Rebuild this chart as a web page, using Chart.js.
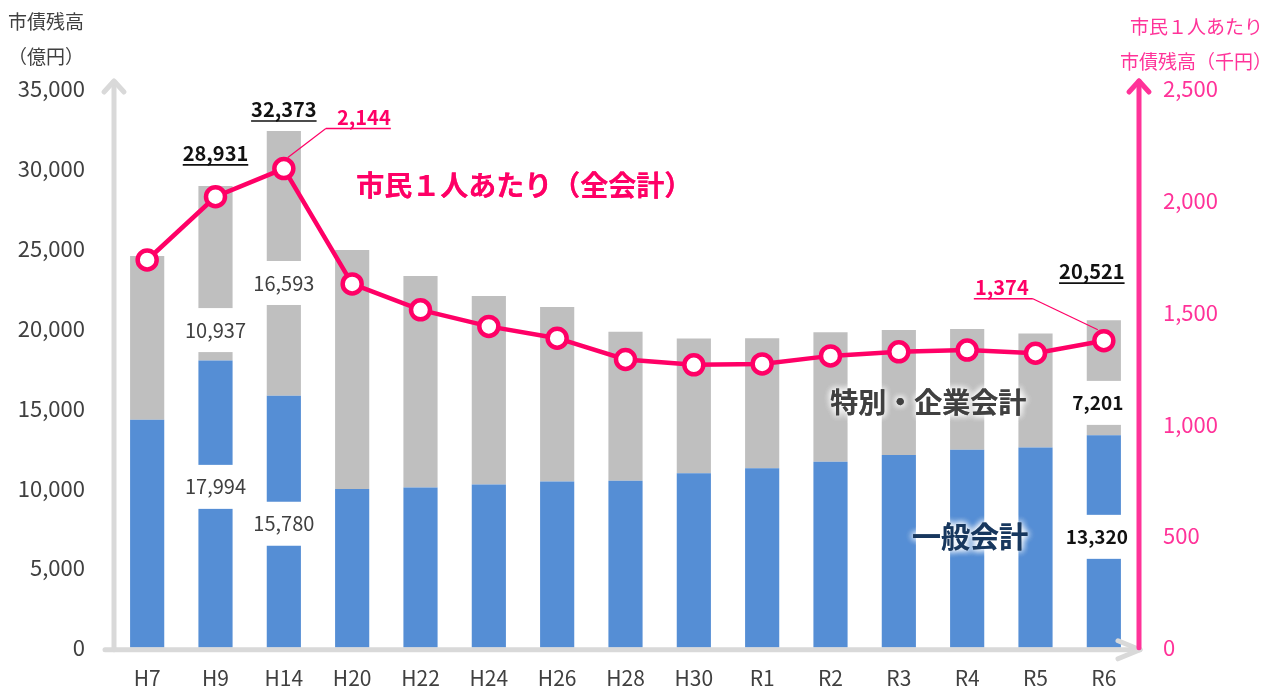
<!DOCTYPE html>
<html lang="ja">
<head>
<meta charset="utf-8">
<title>市債残高の推移</title>
<script src="https://cdn.jsdelivr.net/npm/chart.js@4.4.1/dist/chart.umd.min.js"></script>
<style>
  html, body { margin: 0; padding: 0; background: #fff; }
  #wrap { width: 1275px; height: 689px; }
</style>
</head>
<body>
<div id="wrap"><canvas id="debtChart" width="1275" height="689"></canvas></div>
<script>
// ---- Data (億円 / 千円) ----
const categories  = ['H7','H9','H14','H20','H22','H24','H26','H28','H30','R1','R2','R3','R4','R5','R6'];
const generalDebt = [14280, 17994, 15780, 9950, 10040, 10230, 10410, 10470, 10930, 11250, 11660, 12080, 12400, 12540, 13320];
const specialDebt = [10260, 10937, 16593, 14970, 13250, 11810, 10940, 9320, 8440, 8140, 8110, 7830, 7560, 7140, 7201];
const perCapita   = [1735, 2018, 2144, 1628, 1512, 1438, 1385, 1290, 1266, 1270, 1306, 1324, 1332, 1318, 1374];
const leftTicks   = [0, 5000, 10000, 15000, 20000, 25000, 30000, 35000];
const rightTicks  = [0, 500, 1000, 1500, 2000, 2500];

const totalDebt = generalDebt.map((v, i) => v + specialDebt[i]);

// ---- Styles ----
const FONT = '"Noto Sans CJK JP", "Noto Sans", sans-serif';
const textDark = '#404040';
const pinkLine = '#ff0066';
const pinkAxis = '#ff3399';
const axisGray = '#d9d9d9';
const fmt = v => v.toLocaleString('en-US');

// ---- helpers ----
function boxedLabel(ctx, text, x, y, font, color) {
  ctx.save();
  ctx.font = font;
  const w = ctx.measureText(text).width;
  ctx.fillStyle = '#fff';
  ctx.fillRect(x - w / 2 - 6, y - 22, w + 12, 44);
  ctx.fillStyle = color;
  ctx.textAlign = 'center';
  ctx.textBaseline = 'middle';
  ctx.fillText(text, x, y);
  ctx.restore();
}

// underline runs from x0 to x1 (may be wider than the text)
function underlinedLabel(ctx, text, x, baseline, font, color, x0, x1) {
  ctx.save();
  ctx.font = font;
  ctx.fillStyle = color;
  ctx.textAlign = 'center';
  ctx.textBaseline = 'alphabetic';
  ctx.fillText(text, x, baseline);
  const w = ctx.measureText(text).width;
  ctx.strokeStyle = color;
  ctx.lineWidth = 1.6;
  ctx.beginPath();
  ctx.moveTo(x0 ?? x - w / 2, baseline + 4);
  ctx.lineTo(x1 ?? x + w / 2, baseline + 4);
  ctx.stroke();
  ctx.restore();
}

function glowText(ctx, text, x, y, font, color) {
  ctx.save();
  ctx.font = font;
  ctx.textAlign = 'center';
  ctx.textBaseline = 'middle';
  ctx.fillStyle = color;
  ctx.shadowColor = 'rgba(255,255,255,1)';
  ctx.shadowBlur = 7;
  for (let i = 0; i < 3; i++) ctx.fillText(text, x, y);
  ctx.restore();
}

function chevron(ctx, pts) {
  ctx.beginPath();
  ctx.moveTo(pts[0][0], pts[0][1]);
  ctx.lineTo(pts[1][0], pts[1][1]);
  ctx.lineTo(pts[2][0], pts[2][1]);
  ctx.stroke();
}

// ---- Axes with arrows ----
const arrowAxes = {
  id: 'arrowAxes',
  afterDatasetsDraw(chart) {
    const { ctx, chartArea: a } = chart;
    ctx.save();
    ctx.lineCap = 'round';
    ctx.lineJoin = 'round';
    // left axis
    ctx.strokeStyle = axisGray;
    ctx.lineWidth = 5;
    ctx.beginPath();
    ctx.moveTo(a.left + 1, a.bottom + 2);
    ctx.lineTo(a.left + 1, a.top - 7);
    ctx.stroke();
    chevron(ctx, [[a.left - 9, a.top + 3], [a.left + 1, a.top - 8], [a.left + 11, a.top + 3]]);
    // bottom axis
    ctx.beginPath();
    ctx.moveTo(a.left - 8, a.bottom + 2);
    ctx.lineTo(a.right + 2, a.bottom + 2);
    ctx.stroke();
    chevron(ctx, [[a.right - 20, a.bottom - 7], [a.right + 2, a.bottom + 2], [a.right - 20, a.bottom + 11]]);
    // right axis
    ctx.strokeStyle = pinkAxis;
    ctx.lineWidth = 5;
    ctx.beginPath();
    ctx.moveTo(a.right + 1, a.bottom);
    ctx.lineTo(a.right + 1, a.top - 8);
    ctx.stroke();
    chevron(ctx, [[a.right - 9, a.top + 3], [a.right + 1, a.top - 8], [a.right + 11, a.top + 3]]);
    ctx.restore();
  }
};

// ---- Labels and notes ----
const notes = {
  id: 'notes',
  afterDraw(chart) {
    const { ctx } = chart;
    const x = chart.scales.x, y = chart.scales.y;
    const line = chart.getDatasetMeta(2).data;
    const reg = '20px ' + FONT;
    const bold = 'bold 19px ' + FONT;

    // split labels sitting in white boxes over the bars
    boxedLabel(ctx, fmt(specialDebt[1]), x.getPixelForValue(1), y.getPixelForValue(19900), reg, textDark);
    boxedLabel(ctx, fmt(generalDebt[1]), x.getPixelForValue(1), y.getPixelForValue(10080), reg, textDark);
    boxedLabel(ctx, fmt(specialDebt[2]), x.getPixelForValue(2), y.getPixelForValue(22850), reg, textDark);
    boxedLabel(ctx, fmt(generalDebt[2]), x.getPixelForValue(2), y.getPixelForValue(7770), reg, textDark);
    boxedLabel(ctx, fmt(specialDebt[14]), x.getPixelForValue(14) - 6, y.getPixelForValue(15340), bold, '#111');
    boxedLabel(ctx, fmt(generalDebt[14]), x.getPixelForValue(14) - 7, y.getPixelForValue(6950), bold, '#111');

    // totals
    underlinedLabel(ctx, fmt(totalDebt[1]), x.getPixelForValue(1), y.getPixelForValue(totalDebt[1]) - 25, 'bold 20px ' + FONT, '#111');
    underlinedLabel(ctx, fmt(totalDebt[2]), x.getPixelForValue(2), y.getPixelForValue(totalDebt[2]) - 14, 'bold 20px ' + FONT, '#111');
    underlinedLabel(ctx, fmt(totalDebt[14]), x.getPixelForValue(14) - 12, y.getPixelForValue(totalDebt[14]) - 41, 'bold 20px ' + FONT, '#111');

    // per-capita callouts with leader lines
    ctx.save();
    ctx.strokeStyle = pinkLine;
    ctx.lineWidth = 1.2;
    const p2 = line[2];
    ctx.beginPath();
    ctx.moveTo(p2.x + 4, p2.y - 11);
    ctx.lineTo(p2.x + 42, p2.y - 40);
    ctx.stroke();
    const p14 = line[14];
    ctx.beginPath();
    ctx.moveTo(p14.x - 6, p14.y - 11);
    ctx.lineTo(p14.x - 71, p14.y - 42);
    ctx.stroke();
    ctx.restore();
    underlinedLabel(ctx, fmt(perCapita[2]), p2.x + 80, p2.y - 44, 'bold 20px ' + FONT, pinkLine, p2.x + 42, p2.x + 107);
    underlinedLabel(ctx, fmt(perCapita[14]), p14.x - 102, p14.y - 46, 'bold 20px ' + FONT, pinkLine, p14.x - 130, p14.x - 71);

    // series names
    glowText(ctx, '市民１人あたり（全会計）', x.getPixelForValue(5.52), y.getPixelForValue(28990), 'bold 28px ' + FONT, pinkLine);
    glowText(ctx, '特別・企業会計', x.getPixelForValue(11.43), y.getPixelForValue(15400), 'bold 28px ' + FONT, textDark);
    glowText(ctx, '一般会計', x.getPixelForValue(12.04), y.getPixelForValue(6950), 'bold 29px ' + FONT, '#17375e');

    // axis titles
    ctx.save();
    ctx.font = '19px ' + FONT;
    ctx.textBaseline = 'middle';
    ctx.fillStyle = textDark;
    ctx.textAlign = 'left';
    ctx.fillText('市債残高', 8, 22);
    ctx.fillText('（億円）', 8, 57);
    ctx.fillStyle = pinkAxis;
    ctx.textAlign = 'right';
    ctx.fillText('市民１人あたり', 1263, 27);
    ctx.fillText('市債残高（千円）', 1272, 62);
    ctx.restore();
  }
};

new Chart(document.getElementById('debtChart'), {
  type: 'bar',
  data: {
    labels: categories,
    datasets: [
      { label: '一般会計', data: generalDebt, backgroundColor: '#558ed5', yAxisID: 'y', order: 2,
        categoryPercentage: 1, barPercentage: 0.5 },
      { label: '特別・企業会計', data: specialDebt, backgroundColor: '#bfbfbf', yAxisID: 'y', order: 2,
        categoryPercentage: 1, barPercentage: 0.5 },
      { type: 'line', label: '市民１人あたり（全会計）', data: perCapita, yAxisID: 'y1', order: 0,
        borderColor: pinkLine, borderWidth: 4.5, tension: 0, fill: false,
        pointRadius: 9.5, pointBorderWidth: 4.5, pointBackgroundColor: '#fff', pointBorderColor: pinkLine }
    ]
  },
  options: {
    responsive: false,
    animation: false,
    devicePixelRatio: 1,
    layout: { padding: { top: 89, left: 0, right: 0, bottom: 0 } },
    plugins: { legend: { display: false }, tooltip: { enabled: false } },
    scales: {
      x: {
        stacked: true,
        grid: { display: false, drawTicks: false },
        border: { display: false },
        ticks: { color: textDark, font: { family: FONT, size: 21 }, padding: 18 },
        afterFit: s => { s.height = 41; }
      },
      y: {
        stacked: true, position: 'left', min: 0, max: 35000,
        grid: { display: false, drawTicks: false },
        border: { display: false },
        afterBuildTicks: s => { s.ticks = leftTicks.map(v => ({ value: v })); },
        ticks: { color: textDark, font: { family: FONT, size: 22 }, padding: 28, callback: v => fmt(v) },
        afterFit: s => { s.width = 113; }
      },
      y1: {
        stacked: false, position: 'right', min: 0, max: 2500,
        grid: { display: false, drawTicks: false },
        border: { display: false },
        afterBuildTicks: s => { s.ticks = rightTicks.map(v => ({ value: v })); },
        ticks: { color: pinkAxis, font: { family: FONT, size: 22 }, padding: 25, callback: v => fmt(v) },
        afterFit: s => { s.width = 137; }
      }
    }
  },
  plugins: [arrowAxes, notes]
});
</script>
</body>
</html>
